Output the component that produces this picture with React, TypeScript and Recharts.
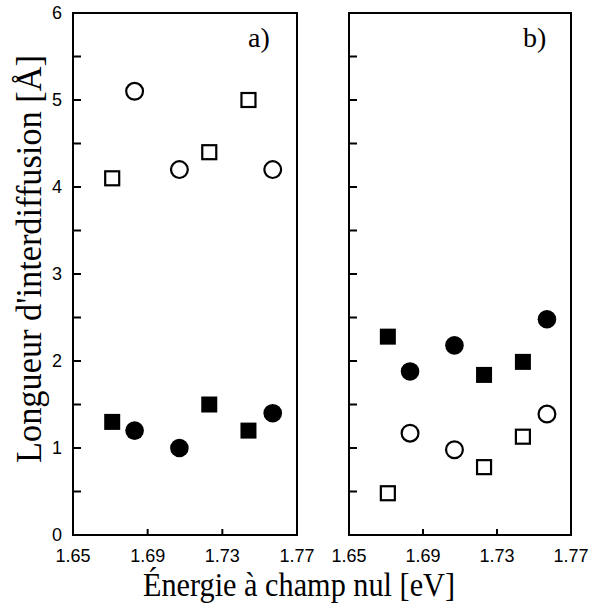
import React from 'react';
import { ScatterChart, Scatter, XAxis, YAxis, ReferenceArea } from 'recharts';

const squareEnergies = [1.671, 1.723, 1.744];
const circleEnergies = [1.683, 1.707, 1.757];

const openSquaresA = [4.1, 4.4, 5.0];
const openCirclesA = [5.1, 4.2, 4.2];
const filledSquaresA = [1.3, 1.5, 1.2];
const filledCirclesA = [1.2, 1.0, 1.4];

const filledSquaresB = [2.28, 1.84, 1.99];
const filledCirclesB = [1.88, 2.18, 2.48];
const openCirclesB = [1.17, 0.98, 1.39];
const openSquaresB = [0.48, 0.78, 1.13];

const xTicks = [1.65, 1.69, 1.73, 1.77];
const yTicks = [0, 0.5, 1, 1.5, 2, 2.5, 3, 3.5, 4, 4.5, 5, 5.5, 6];

const toPoints = (xs: number[], ys: number[]) => xs.map((x, i) => ({ x, y: ys[i] }));

const tickStyle = { fill: '#000', fontSize: 18, fontFamily: '"Liberation Sans", Arial, sans-serif' };

const OpenSquare = (props: any) => (
  <rect x={props.cx - 7} y={props.cy - 7} width={14} height={14} fill="#fff" stroke="#000" strokeWidth={2.2} />
);
const FilledSquare = (props: any) => (
  <rect x={props.cx - 8} y={props.cy - 8} width={16} height={16} fill="#000" />
);
const OpenCircle = (props: any) => (
  <circle cx={props.cx} cy={props.cy} r={8.4} fill="#fff" stroke="#000" strokeWidth={2.2} />
);
const FilledCircle = (props: any) => (
  <circle cx={props.cx} cy={props.cy} r={9.3} fill="#000" />
);

type PanelProps = {
  left: number;
  width: number;
  marginLeft: number;
  marginRight: number;
  yWidth: number;
  showYLabels: boolean;
  openSquares: number[];
  openCircles: number[];
  filledSquares: number[];
  filledCircles: number[];
};

function Panel(p: PanelProps) {
  return (
    <div style={{ position: 'absolute', left: p.left, top: 0 }}>
      <ScatterChart
        width={p.width}
        height={608}
        margin={{ top: 13, right: p.marginRight, left: p.marginLeft, bottom: 0 }}
      >
        <XAxis
          type="number"
          dataKey="x"
          domain={[1.65, 1.77]}
          ticks={xTicks}
          interval={0}
          allowDataOverflow
          tickFormatter={(v: number) => v.toFixed(2)}
          height={73}
          tickSize={-6}
          tickMargin={20}
          stroke="#000"
          strokeWidth={2}
          tick={tickStyle}
        />
        <YAxis
          type="number"
          dataKey="y"
          domain={[0, 6]}
          ticks={yTicks}
          interval={0}
          allowDataOverflow
          width={p.yWidth}
          tickSize={-8}
          tickMargin={19}
          stroke="#000"
          strokeWidth={2}
          tickFormatter={(v: number) => (p.showYLabels && Number.isInteger(v) ? String(v) : '')}
          tick={tickStyle}
        />
        <ReferenceArea x1={1.65} x2={1.77} y1={0} y2={6} fill="none" stroke="#000" strokeWidth={2} strokeOpacity={1} fillOpacity={0} />
        <Scatter data={toPoints(squareEnergies, p.openSquares)} shape={OpenSquare} isAnimationActive={false} />
        <Scatter data={toPoints(circleEnergies, p.openCircles)} shape={OpenCircle} isAnimationActive={false} />
        <Scatter data={toPoints(squareEnergies, p.filledSquares)} shape={FilledSquare} isAnimationActive={false} />
        <Scatter data={toPoints(circleEnergies, p.filledCircles)} shape={FilledCircle} isAnimationActive={false} />
      </ScatterChart>
    </div>
  );
}

export default function App() {
  const serif = '"Liberation Serif", "Times New Roman", serif';
  return (
    <div style={{ position: 'absolute', left: 0, top: 0, width: 590, height: 608, background: '#fff' }}>
      <Panel
        left={0}
        width={320}
        marginLeft={13}
        marginRight={23}
        yWidth={60}
        showYLabels={true}
        openSquares={openSquaresA}
        openCircles={openCirclesA}
        filledSquares={filledSquaresA}
        filledCircles={filledCirclesA}
      />
      <Panel
        left={290}
        width={300}
        marginLeft={49}
        marginRight={19}
        yWidth={10}
        showYLabels={false}
        openSquares={openSquaresB}
        openCircles={openCirclesB}
        filledSquares={filledSquaresB}
        filledCircles={filledCirclesB}
      />
      <svg width={590} height={608} style={{ position: 'absolute', left: 0, top: 0, pointerEvents: 'none' }}>
        <text x={248} y={47} fontFamily={serif} fontSize={28} fill="#000">a)</text>
        <text x={523} y={47} fontFamily={serif} fontSize={28} fill="#000">b)</text>
        <text
          x={0}
          y={0}
          transform="translate(41,259) rotate(-90)"
          textAnchor="middle"
          fontFamily={serif}
          fontSize={35}
          textLength={408}
          lengthAdjust="spacingAndGlyphs"
          fill="#000"
        >
          Longueur d'interdiffusion [Å]
        </text>
        <text
          x={299}
          y={596}
          textAnchor="middle"
          fontFamily={serif}
          fontSize={34}
          textLength={312}
          lengthAdjust="spacingAndGlyphs"
          fill="#000"
        >
          Énergie à champ nul [eV]
        </text>
      </svg>
    </div>
  );
}
